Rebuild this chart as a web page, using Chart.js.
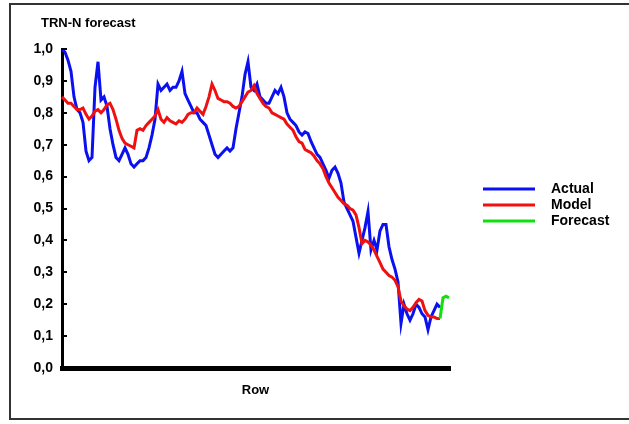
<!DOCTYPE html>
<html>
<head>
<meta charset="utf-8">
<title>TRN-N forecast</title>
<script src="https://cdn.jsdelivr.net/npm/chart.js@4.4.1/dist/chart.umd.min.js"></script>
<style>
  html, body { margin: 0; padding: 0; background: #fff; }
  #trn-chart { display: block; }
</style>
</head>
<body>
<canvas id="trn-chart" width="629" height="424"></canvas>
<script>
// values, one per row
const actual = [
  1.00, 0.99, 0.965, 0.93, 0.85, 0.81, 0.80, 0.77, 0.68, 0.65,
  0.66, 0.88, 0.96, 0.84, 0.85, 0.82, 0.75, 0.70, 0.66, 0.65,
  0.67, 0.69, 0.67, 0.64, 0.63, 0.64, 0.65, 0.65, 0.66, 0.69,
  0.73, 0.78, 0.89, 0.87, 0.88, 0.89, 0.87, 0.88, 0.88, 0.90,
  0.93, 0.86, 0.84, 0.82, 0.80, 0.80, 0.78, 0.77, 0.76, 0.73,
  0.70, 0.67, 0.66, 0.67, 0.68, 0.69, 0.68, 0.69, 0.75, 0.80,
  0.85, 0.92, 0.96, 0.88, 0.87, 0.89, 0.85, 0.84, 0.83, 0.83,
  0.85, 0.87, 0.86, 0.88, 0.85, 0.80, 0.78, 0.77, 0.76, 0.74,
  0.73, 0.74, 0.735, 0.71, 0.69, 0.67, 0.66, 0.64, 0.62, 0.595,
  0.62, 0.63, 0.61, 0.58, 0.52, 0.50, 0.48, 0.46, 0.41, 0.36,
  0.40, 0.44, 0.49, 0.37, 0.40, 0.37, 0.43, 0.45, 0.45, 0.38,
  0.34, 0.31, 0.27, 0.14, 0.20, 0.17, 0.15, 0.17, 0.20, 0.19,
  0.17, 0.16, 0.12, 0.16, 0.18, 0.20, 0.19
];
const model = [
  0.85, 0.84, 0.83, 0.83, 0.82, 0.81, 0.81, 0.815, 0.795, 0.78,
  0.79, 0.805, 0.81, 0.80, 0.81, 0.825, 0.83, 0.81, 0.78, 0.745,
  0.72, 0.705, 0.70, 0.695, 0.69, 0.745, 0.75, 0.745, 0.76, 0.77,
  0.78, 0.79, 0.81, 0.78, 0.77, 0.785, 0.775, 0.77, 0.765, 0.775,
  0.77, 0.78, 0.795, 0.80, 0.80, 0.815, 0.805, 0.795, 0.82, 0.85,
  0.89, 0.87, 0.845, 0.84, 0.835, 0.835, 0.83, 0.82, 0.815, 0.82,
  0.835, 0.85, 0.865, 0.87, 0.885, 0.86, 0.845, 0.83, 0.82, 0.815,
  0.80, 0.795, 0.79, 0.785, 0.78, 0.765, 0.755, 0.745, 0.725, 0.71,
  0.705, 0.685, 0.68, 0.675, 0.665, 0.65, 0.64, 0.625, 0.60, 0.58,
  0.565, 0.55, 0.535, 0.525, 0.515, 0.51, 0.50, 0.495, 0.48, 0.44,
  0.39, 0.40, 0.395, 0.385, 0.37, 0.35, 0.33, 0.31, 0.30, 0.29,
  0.285, 0.275, 0.255, 0.21, 0.195, 0.185, 0.18, 0.19, 0.205, 0.215,
  0.21, 0.18, 0.165, 0.16, 0.16, 0.155, 0.155
];
// forecast starts on the last modelled row
const forecastStart = 126;
const forecastValues = [0.155, 0.22, 0.225, 0.22];
const rowCount = 130;

const seriesNames = ['Actual', 'Model', 'Forecast'];
const seriesColors = ['#0a10f0', '#f01010', '#10e010'];
const yTicks = [0, 0.1, 0.2, 0.3, 0.4, 0.5, 0.6, 0.7, 0.8, 0.9, 1.0];
const chartTitle = 'TRN-N forecast';
const xTitle = 'Row';

window.addEventListener('DOMContentLoaded', () => {
  const canvas = document.getElementById('trn-chart');
  const labels = [];
  for (let i = 1; i <= rowCount; i++) labels.push(String(i));

  const forecast = new Array(rowCount).fill(null);
  forecastValues.forEach((v, i) => { forecast[forecastStart + i] = v; });

  const fmt = (v) => v.toFixed(1).replace('.', ',');
  const fontFamily = '"Liberation Sans", Arial, sans-serif';

  // frame, title and legend, drawn the way the old report did
  const decorations = {
    id: 'decorations',
    beforeDraw(chart) {
      const ctx = chart.ctx;
      ctx.save();
      ctx.fillStyle = '#fff';
      ctx.fillRect(0, 0, chart.width, chart.height);
      ctx.strokeStyle = '#333';
      ctx.lineWidth = 2;
      ctx.strokeRect(10, 4, 700, 415);
      ctx.restore();
    },
    afterDraw(chart) {
      const ctx = chart.ctx;
      ctx.save();
      ctx.fillStyle = '#000';
      ctx.font = 'bold 13px ' + fontFamily;
      ctx.textBaseline = 'middle';
      ctx.textAlign = 'left';
      ctx.fillText(chartTitle, 41, 23);

      const rows = [189, 205, 221];
      ctx.font = 'bold 14px ' + fontFamily;
      seriesNames.forEach((name, i) => {
        ctx.strokeStyle = seriesColors[i];
        ctx.lineWidth = 3;
        ctx.beginPath();
        ctx.moveTo(483, rows[i]);
        ctx.lineTo(535, rows[i]);
        ctx.stroke();
        ctx.fillText(name, 551, rows[i]);
      });

      // the y axis ticks sit on the inside in the original
      const y = chart.scales.y;
      const left = chart.chartArea.left;
      ctx.strokeStyle = '#000';
      ctx.lineWidth = 2;
      y.ticks.forEach((t) => {
        const py = Math.round(y.getPixelForValue(t.value));
        ctx.beginPath();
        ctx.moveTo(left - 1, py);
        ctx.lineTo(left + 5, py);
        ctx.stroke();
      });
      ctx.restore();
    }
  };

  const lineStyle = { pointRadius: 0, borderWidth: 3, tension: 0, fill: false, spanGaps: false };

  new Chart(canvas, {
    type: 'line',
    data: {
      labels: labels,
      datasets: [
        { label: seriesNames[0], data: actual, borderColor: seriesColors[0], order: 2, ...lineStyle },
        { label: seriesNames[1], data: model, borderColor: seriesColors[1], order: 1, ...lineStyle },
        { label: seriesNames[2], data: forecast, borderColor: seriesColors[2], order: 0, ...lineStyle }
      ]
    },
    options: {
      responsive: false,
      animation: false,
      layout: { padding: { left: 22, right: 180, top: 49, bottom: 20 } },
      plugins: {
        legend: { display: false },
        title: { display: false },
        tooltip: { enabled: false }
      },
      scales: {
        x: {
          type: 'category',
          offset: false,
          afterFit: (s) => { s.height = 36; },
          border: { display: true, color: '#000', width: 5 },
          grid: { drawOnChartArea: false, drawTicks: true, tickLength: 3, color: '#000', lineWidth: 3 },
          ticks: { display: false },
          title: {
            display: true,
            text: xTitle,
            color: '#000',
            font: { family: fontFamily, size: 13, weight: 'bold' },
            padding: { top: 4, bottom: 6 }
          }
        },
        y: {
          min: 0,
          max: 1,
          afterFit: (s) => { s.width = 40; },
          border: { display: true, color: '#000', width: 3 },
          grid: { drawOnChartArea: false, drawTicks: false },
          ticks: {
            stepSize: 0.05,
            padding: 9,
            color: '#000',
            font: { family: fontFamily, size: 14, weight: 'bold' },
            callback: (v) => {
              const hit = yTicks.find(t => Math.abs(t - v) < 1e-6);
              return hit === undefined ? '' : fmt(hit);
            }
          }
        }
      }
    },
    plugins: [decorations]
  });
});
</script>
</body>
</html>
